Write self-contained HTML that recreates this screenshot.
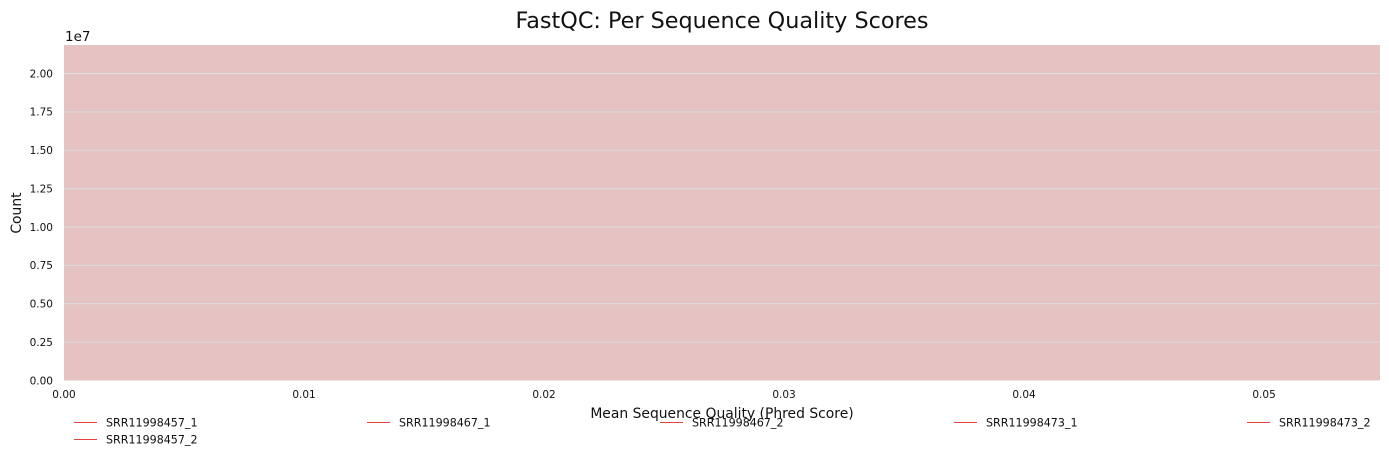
<!DOCTYPE html>
<html><head><meta charset="utf-8"><style>
html,body{margin:0;padding:0;background:#fff;}
svg{display:block;font-family:"DejaVu Sans","Liberation Sans",sans-serif;}
</style></head><body>
<svg id="chart" width="1389" height="460"></svg>
<script>
const yTicks=[0,0.25,0.5,0.75,1.0,1.25,1.5,1.75,2.0];
const yTickLabels=["0.00","0.25","0.50","0.75","1.00","1.25","1.50","1.75","2.00"];
const xTicks=[0,0.01,0.02,0.03,0.04,0.05];
const xTickLabels=["0.00","0.01","0.02","0.03","0.04","0.05"];
const seriesNames=["SRR11998457_1","SRR11998467_1","SRR11998467_2","SRR11998473_1","SRR11998473_2","SRR11998457_2"];
const seriesX=[[],[],[],[],[],[]];
const seriesY=[[],[],[],[],[],[]];
const yMax=2.1857, xMax=0.05483;
const L=64,R=1380,T=45,B=380.5;
const sx=v=>L+(v/xMax)*(R-L);
const sy=v=>B-(v/yMax)*(B-T);
const NS="http://www.w3.org/2000/svg";
const svg=document.getElementById('chart');
function mk(tag,attrs,text){const e=document.createElementNS(NS,tag);for(const k in attrs)e.setAttribute(k,attrs[k]);if(text!==undefined)e.textContent=text;svg.appendChild(e);return e;}
let e;
e=mk('text',{x:722,y:28,'text-anchor':'middle','font-size':22.3,fill:'#111'},'FastQC: Per Sequence Quality Scores');


e=mk('rect',{x:L,y:T,width:R-L,height:B-T,fill:'#e4c3c2'});


yTicks.forEach((v,i)=>{
  if(v>0){e=mk('line',{x1:L,x2:R,y1:sy(v),y2:sy(v),stroke:'#dcdcdc','stroke-width':1});
  
  }
  e=mk('text',{x:53,y:sy(v)+3.8,'text-anchor':'end','font-size':10.5,fill:'#111'},yTickLabels[i]);
  
  
});
xTicks.forEach((v,i)=>{
  e=mk('text',{x:sx(v),y:398,'text-anchor':'middle','font-size':10.5,fill:'#111'},xTickLabels[i]);
  
  
});
e=mk('text',{x:65,y:41,'font-size':13.5,fill:'#111'},'1e7');


e=mk('text',{x:21,y:213,'text-anchor':'middle','font-size':13.9,fill:'#111',transform:'rotate(-90 21 213)'},'Count');


e=mk('text',{x:722,y:418,'text-anchor':'middle','font-size':13.9,fill:'#111'},'Mean Sequence Quality (Phred Score)');


seriesNames.forEach((n,i)=>{
  if(seriesX[i].length){
    const pts=seriesX[i].map((x,j)=>sx(x)+','+sy(seriesY[i][j])).join(' ');
    e=mk('polyline',{points:pts,fill:'none',stroke:'#e8413b','stroke-width':1});
    
    
  }
});
const legX=[74,367,660,954,1247,74], legY=[422,422,422,422,422,439];
seriesNames.forEach((n,i)=>{
  e=mk('rect',{x:legX[i],y:legY[i],width:23,height:1,fill:'#e8413b'});
  
  
  e=mk('text',{x:legX[i]+32,y:legY[i]+4.5,'font-size':11.1,fill:'#111'},n);
  
  
});
</script>
</body></html>
